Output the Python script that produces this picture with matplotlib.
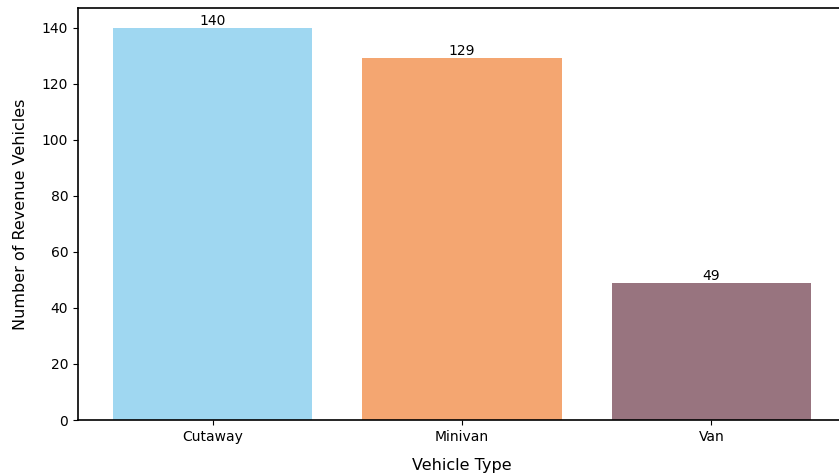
import matplotlib
matplotlib.use("Agg")
import matplotlib.pyplot as plt
import numpy as np

vehicle_types = ["Cutaway", "Minivan", "Van"]
counts = [140, 129, 49]
colors = ["#9fd7f1", "#f4a671", "#98747f"]

fig = plt.figure(figsize=(8.39, 4.74), dpi=100)
# axes run slightly past the right edge of the figure, as in the reference
ax = fig.add_axes([78 / 839, 54 / 474, 768 / 839, 412 / 474])

x = np.arange(len(vehicle_types))
bars = ax.bar(x, counts, width=0.8, color=colors)
for rect, val in zip(bars, counts):
    ax.text(rect.get_x() + rect.get_width() / 2, val, str(val),
            ha="center", va="bottom", fontsize=10)

ax.set_xticks(x)
ax.set_xticklabels(vehicle_types, fontsize=10)
ax.tick_params(axis="y", labelsize=10)
ax.set_xlim(-0.54, 2.54)
ax.set_ylim(0, 147)
ax.set_yticks(range(0, 141, 20))
ax.set_xlabel("Vehicle Type", fontsize=11.5, labelpad=10)
ax.set_ylabel("Number of Revenue Vehicles", fontsize=11.5, labelpad=10)
for s in ax.spines.values():
    s.set_linewidth(1.2)

fig.savefig("out.png", dpi=100)
